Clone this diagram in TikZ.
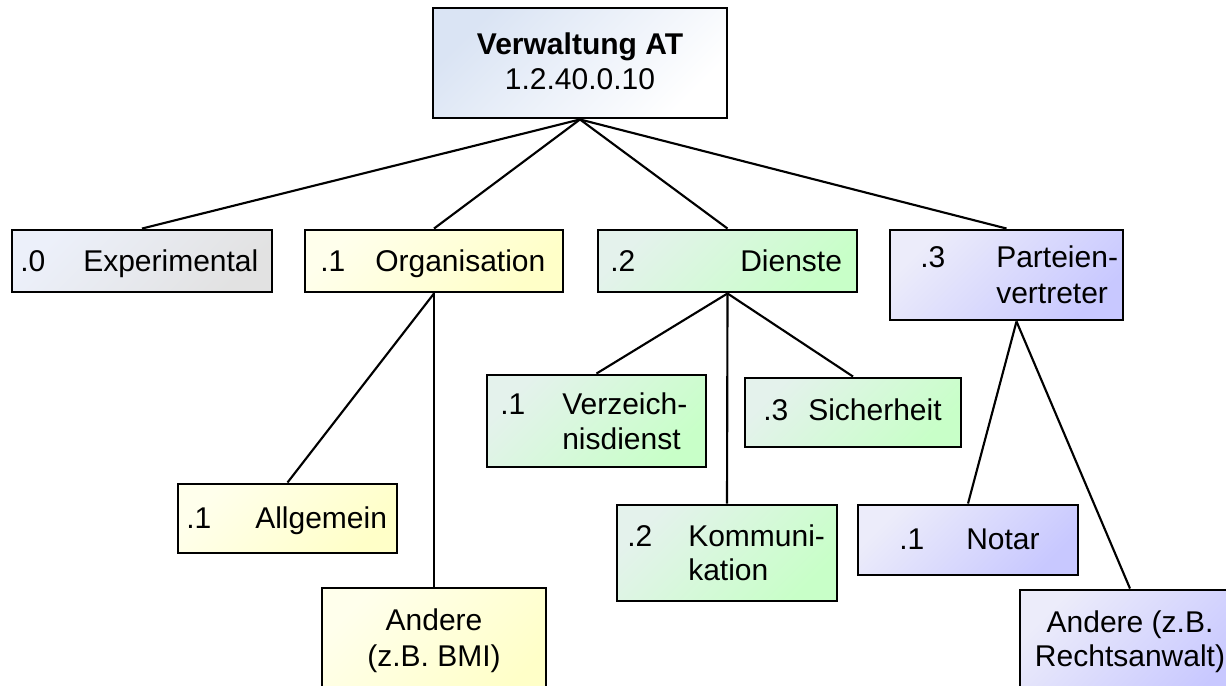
\documentclass[tikz,border=0pt]{standalone}
\usepackage{fontspec}
\setmainfont{Liberation Sans}
\begin{document}
\begin{tikzpicture}[x=0.75pt,y=-0.75pt,
  box/.style={draw=black,line width=2.2pt,rectangle,inner sep=0pt,shading=axis},
  rootc/.style={box,top color=rootA,bottom color=white,shading angle=45},
  grayc/.style={box,top color=grayA,bottom color=grayB,shading angle=45},
  yelc/.style={box,top color=yelA,bottom color=yelB,shading angle=45},
  grnc/.style={box,top color=grnA,bottom color=grnB,shading angle=45},
  purc/.style={box,top color=purA,bottom color=purB,shading angle=45},
  txt/.style={inner sep=0pt,anchor=mid west,yshift=-4.5pt,font=\fontsize{22.5}{27}\selectfont},
  ctxt/.style={inner sep=0pt,anchor=mid,yshift=-4.5pt,font=\fontsize{22.5}{27}\selectfont},
  link/.style={draw=black,line width=1.6pt}]
\definecolor{rootA}{RGB}{218,228,244}
\definecolor{grayA}{RGB}{236,240,250}
\definecolor{grayB}{RGB}{226,226,226}
\definecolor{yelA}{RGB}{255,255,236}
\definecolor{yelB}{RGB}{255,255,200}
\definecolor{grnA}{RGB}{228,242,236}
\definecolor{grnB}{RGB}{200,255,200}
\definecolor{purA}{RGB}{236,236,250}
\definecolor{purB}{RGB}{200,200,255}
\useasboundingbox (0,0) rectangle (1226,685);
\clip (0,0) rectangle (1226,685);
% boxes
\node[rootc,minimum width=220.5pt,minimum height=82.5pt] (root) at (580,63) {};
\node[grayc,minimum width=195pt,minimum height=46.5pt] (exp) at (142,261) {};
\node[yelc,minimum width=193.5pt,minimum height=46.5pt] (org) at (434,261) {};
\node[grnc,minimum width=194.25pt,minimum height=46.5pt] (dien) at (727.5,261) {};
\node[purc,minimum width=174.75pt,minimum height=67.5pt] (part) at (1006.5,275) {};
\node[grnc,minimum width=164.25pt,minimum height=69pt] (verz) at (596.5,421) {};
\node[grnc,minimum width=162pt,minimum height=51.75pt] (sich) at (853,412.5) {};
\node[yelc,minimum width=164.25pt,minimum height=51.75pt] (allg) at (287.5,518.5) {};
\node[yelc,minimum width=168pt,minimum height=84pt] (bmi) at (434,644) {};
\node[grnc,minimum width=165pt,minimum height=72pt] (komm) at (727,553) {};
\node[purc,minimum width=165pt,minimum height=52.5pt] (notar) at (968,540) {};
\node[purc,minimum width=165pt,minimum height=82.5pt] (ra) at (1130,645) {};
% connectors
\draw[link] (root.south) -- (exp.north);
\draw[link] (root.south) -- (org.north);
\draw[link] (root.south) -- (dien.north);
\draw[link] (root.south) -- (part.north);
\draw[link] (org.south) -- (allg.north);
\draw[link] (org.south) -- (bmi.north);
\draw[link] (dien.south) -- (verz.north);
\draw[link] (dien.south) -- (sich.north);
\draw[link] (dien.south) -- (komm.north);
\coordinate (partb) at ([xshift=7.5pt]part.south);
\draw[link] (partb) -- (notar.north);
\draw[link] (partb) -- (ra.north);
% texts
\node[ctxt,font=\fontsize{22.5}{27}\selectfont\bfseries] (t0) at (580,45) {Verwaltung AT};
\node[ctxt] (t1) at (580,80) {1.2.40.0.10};
\node[txt] (t2) at (20,262) {.0};
\node[txt] (t3) at (83,262) {Experimental};
\node[txt] (t4) at (320,262) {.1};
\node[txt] (t5) at (375,262) {Organisation};
\node[txt] (t6) at (610,262) {.2};
\node[txt] (t7) at (740,262) {Dienste};
\node[txt] (t8) at (920,258) {.3};
\node[txt] (t9) at (996,258) {Parteien-};
\node[txt] (t10) at (996,294) {vertreter};
\node[txt] (t11) at (500,405) {.1};
\node[txt] (t12) at (562,405) {Verzeich-};
\node[txt] (t13) at (562,440) {nisdienst};
\node[txt] (t14) at (763,411) {.3};
\node[txt] (t15) at (808,411) {Sicherheit};
\node[txt] (t16) at (186,519) {.1};
\node[txt] (t17) at (255,519) {Allgemein};
\node[txt] (t18) at (627,537) {.2};
\node[txt] (t19) at (688,537) {Kommuni-};
\node[txt] (t20) at (688,571) {kation};
\node[txt] (t21) at (899,540) {.1};
\node[txt] (t22) at (966,540) {Notar};
\node[ctxt] (t23) at (434,621) {Andere};
\node[ctxt] (t24) at (434,657) {(z.B. BMI)};
\node[ctxt] (t25) at (1130,623) {Andere (z.B.};
\node[ctxt] (t26) at (1130,657) {Rechtsanwalt)};
\end{tikzpicture}
\end{document}
